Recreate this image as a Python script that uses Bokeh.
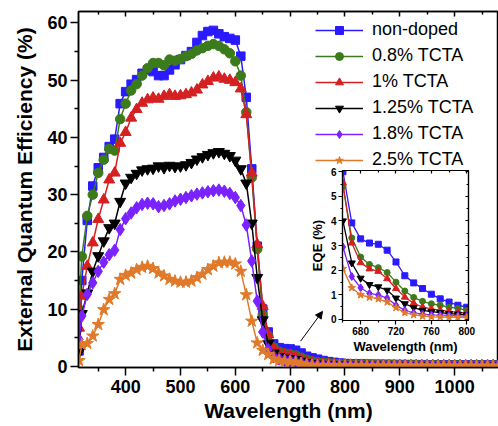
from bokeh.plotting import figure
from bokeh.models import (Range1d, LinearAxis, FixedTicker, Legend, LegendItem, Arrow, NormalHead,
                          CustomLabelingPolicy)
from bokeh.embed import file_html
from bokeh.resources import INLINE

# ---------------- data ----------------
wavelength = [315] + list(range(320, 1081, 10))

non_doped = [2.7, 15.0, 25.5, 31.5, 34.7, 36.5, 38.4, 39.7, 45.9, 48.0, 49.3, 50.1, 51.2, 51.8, 51.5, 50.8,
             50.8, 51.8, 52.7, 53.6, 54.3, 55.0, 56.6, 57.8, 58.5, 58.7, 58.1, 57.6, 57.3, 57.0, 54.2, 47.0,
             34.5, 21.0, 10.0, 6.0,
             3.92, 3.27, 3.10, 3.05, 2.81, 2.33, 1.77, 1.48, 1.25, 1.02, 0.83, 0.70, 0.57, 0.49,
             0.45, 0.42, 0.40, 0.38, 0.36, 0.35, 0.34, 0.33, 0.32, 0.31, 0.30, 0.30, 0.29, 0.29, 0.28, 0.28,
             0.27, 0.27, 0.27, 0.26, 0.26, 0.26, 0.25, 0.25, 0.25, 0.25, 0.24, 0.24]
tcta_08 = [10.0, 19.2, 26.3, 30.0, 33.8, 36.1, 38.0, 37.7, 43.2, 45.9, 48.2, 49.3, 50.8, 52.1, 53.0, 53.0,
           52.6, 53.6, 53.4, 53.7, 54.2, 54.6, 55.2, 55.6, 56.0, 56.3, 56.0, 55.4, 54.7, 53.3, 50.8, 44.4,
           33.0, 20.5, 9.0, 5.4,
           3.31, 2.53, 2.23, 2.10, 1.90, 1.51, 1.15, 0.89, 0.73, 0.63, 0.57, 0.49, 0.44, 0.36,
           0.34, 0.32, 0.30, 0.29, 0.28, 0.27, 0.26, 0.25, 0.25, 0.24, 0.24, 0.23, 0.23, 0.22, 0.22, 0.22,
           0.21, 0.21, 0.21, 0.20, 0.20, 0.20, 0.20, 0.19, 0.19, 0.19, 0.19, 0.19]
tcta_1 = [6.7, 12.3, 17.5, 21.6, 25.7, 29.1, 32.6, 33.8, 39.0, 40.9, 43.4, 44.9, 46.0, 46.6, 46.9, 46.7,
          47.2, 47.5, 47.2, 47.3, 47.5, 47.8, 48.3, 49.2, 49.8, 50.4, 50.6, 50.2, 50.0, 49.6, 48.5, 44.0,
          33.8, 21.3, 10.5, 5.55,
          3.10, 2.30, 2.05, 1.95, 1.65, 1.25, 0.90, 0.65, 0.50, 0.42, 0.37, 0.32, 0.28, 0.25,
          0.22, 0.21, 0.20, 0.19, 0.19, 0.18, 0.18, 0.17, 0.17, 0.16, 0.16, 0.16, 0.15, 0.15, 0.15, 0.15,
          0.14, 0.14, 0.14, 0.14, 0.14, 0.13, 0.13, 0.13, 0.13, 0.13, 0.13, 0.12]
tcta_125 = [2.5, 9.2, 12.8, 16.6, 19.3, 21.9, 24.2, 25.0, 28.8, 32.0, 33.0, 33.7, 34.3, 34.5, 34.6, 35.0,
            34.7, 35.1, 34.9, 35.0, 35.2, 35.6, 36.2, 36.6, 37.0, 37.3, 37.5, 37.2, 36.8, 36.0, 34.5, 32.0,
            25.0, 15.5, 8.1, 4.0,
            2.29, 1.67, 1.41, 1.32, 1.18, 0.86, 0.63, 0.47, 0.36, 0.31, 0.27, 0.23, 0.21, 0.18,
            0.17, 0.16, 0.15, 0.15, 0.14, 0.14, 0.13, 0.13, 0.13, 0.12, 0.12, 0.12, 0.12, 0.11, 0.11, 0.11,
            0.11, 0.11, 0.10, 0.10, 0.10, 0.10, 0.10, 0.10, 0.10, 0.09, 0.09, 0.09]
tcta_18 = [4.7, 8.8, 12.6, 14.6, 16.6, 18.2, 19.5, 20.3, 23.9, 25.8, 26.8, 27.7, 28.3, 28.5, 28.4, 27.9,
           28.1, 28.4, 28.9, 29.2, 29.5, 29.8, 30.1, 30.3, 30.5, 30.7, 30.8, 30.6, 30.2, 29.5, 28.1, 24.7,
           18.4, 11.4, 6.0, 2.94,
           1.74, 1.28, 1.05, 0.99, 0.86, 0.57, 0.36, 0.26, 0.21, 0.18, 0.17, 0.16, 0.14, 0.13,
           0.12, 0.12, 0.11, 0.11, 0.10, 0.10, 0.10, 0.09, 0.09, 0.09, 0.09, 0.08, 0.08, 0.08, 0.08, 0.08,
           0.08, 0.07, 0.07, 0.07, 0.07, 0.07, 0.07, 0.07, 0.07, 0.06, 0.06, 0.06]
tcta_25 = [1.0, 3.8, 4.0, 5.3, 7.3, 9.9, 11.7, 12.7, 15.2, 15.9, 16.3, 16.9, 17.3, 17.5, 17.1, 16.3,
           15.8, 15.2, 14.9, 14.7, 14.7, 14.9, 15.5, 16.1, 16.9, 17.5, 18.1, 18.2, 18.2, 17.9, 16.6, 12.5,
           7.9, 4.1, 2.8, 2.06,
           1.28, 0.99, 0.89, 0.83, 0.70, 0.47, 0.27, 0.18, 0.13, 0.10, 0.09, 0.08, 0.08, 0.07,
           0.07, 0.06, 0.06, 0.06, 0.06, 0.05, 0.05, 0.05, 0.05, 0.05, 0.05, 0.05, 0.04, 0.04, 0.04, 0.04,
           0.04, 0.04, 0.04, 0.04, 0.04, 0.04, 0.04, 0.03, 0.03, 0.03, 0.03, 0.03]

labels = ["non-doped", "0.8% TCTA", "1% TCTA", "1.25% TCTA", "1.8% TCTA", "2.5% TCTA"]
series = [non_doped, tcta_08, tcta_1, tcta_125, tcta_18, tcta_25]
colors = ["#2a1aff", "#3b7b1b", "#d42020", "#000000", "#7a22ff", "#e07a2a"]
markers = ["square", "circle", "triangle", "inverted_triangle", "diamond", "star"]
main_sizes = [8.5, 9.5, 11, 11, 12.5, 13]
inset_sizes = [6, 6, 7, 7, 8, 8]

x_ticks = [400, 500, 600, 700, 800, 900, 1000]
x_minor = [350, 450, 550, 650, 750, 850, 950, 1050]
y_ticks = [0, 10, 20, 30, 40, 50, 60]
y_minor = [5, 15, 25, 35, 45, 55]
ix_ticks = [680, 720, 760, 800]
ix_minor = [660, 700, 740, 780]
iy_ticks = [0, 1, 2, 3, 4, 5, 6]
iy_minor = [0.5, 1.5, 2.5, 3.5, 4.5, 5.5]
inset_lo, inset_hi = 660, 800

FONT = "Liberation Sans"

HIDE_JS = """
try { const n = indices.size; for (let i = 0; i < n; i++) { indices.unset(i) } } catch (e) {}
return indices
"""


def mirror_axis(ticks, minor, tick_in, minor_in, lw):
    return LinearAxis(ticker=FixedTicker(ticks=ticks, minor_ticks=minor),
                      major_label_text_font_size="0px", major_label_standoff=0,
                      major_label_policy=CustomLabelingPolicy(code=HIDE_JS),
                      major_tick_in=tick_in, major_tick_out=0,
                      minor_tick_in=minor_in, minor_tick_out=0, axis_line_width=lw,
                      major_tick_line_width=lw, minor_tick_line_width=lw)


# ---------------- main figure ----------------
p = figure(width=498, height=426, x_range=Range1d(314, 1080), y_range=Range1d(-0.2, 62),
           output_backend="svg", toolbar_location=None,
           min_border_left=78, min_border_right=0, min_border_top=11, min_border_bottom=59)
p.xgrid.visible = False
p.ygrid.visible = False
p.outline_line_color = "black"
p.outline_line_width = 1.5

for ax in (p.xaxis[0], p.yaxis[0]):
    ax.axis_line_width = 1.5
    ax.major_tick_line_width = 1.5
    ax.minor_tick_line_width = 1.5
    ax.major_tick_out = 8
    ax.major_tick_in = 0
    ax.minor_tick_out = 4
    ax.minor_tick_in = 0
    ax.major_label_text_font = FONT
    ax.major_label_text_font_style = "bold"
    ax.major_label_text_font_size = "18px"
    ax.major_label_text_color = "black"
    ax.axis_label_text_font = FONT
    ax.axis_label_text_font_style = "bold"
    ax.axis_label_text_font_size = "21px"
    ax.axis_label_text_color = "black"

p.xaxis.ticker = FixedTicker(ticks=x_ticks, minor_ticks=x_minor)
p.yaxis.ticker = FixedTicker(ticks=y_ticks, minor_ticks=y_minor)
p.xaxis.axis_label = "Wavelength (nm)"
p.yaxis.axis_label = "External Quantum Efficiency (%)"
p.xaxis.major_label_standoff = 4
p.xaxis.axis_label_standoff = 3
p.yaxis.major_label_standoff = 3
p.yaxis.axis_label_standoff = 8

p.add_layout(mirror_axis(x_ticks, x_minor, 5, 3, 1.5), "above")

items = []
for lab, ys, c, m, s in zip(labels, series, colors, markers, main_sizes):
    lr = p.line(wavelength, ys, line_color=c, line_width=1.5)
    sr = p.scatter(wavelength, ys, marker=m, size=s, fill_color=c, line_color=c)
    items.append(LegendItem(label=lab, renderers=[lr, sr]))

legend = Legend(items=items, location=(237, 197), padding=0, margin=0, spacing=5,
                glyph_width=48, glyph_height=20, label_height=20, label_standoff=9,
                label_text_font=FONT, label_text_font_size="18px", label_text_color="black",
                border_line_color=None, background_fill_alpha=0)
p.add_layout(legend)

p.add_layout(Arrow(end=NormalHead(size=7, fill_color="black", line_color="black", line_width=1),
                   x_start=719, y_start=4.4, x_end=759, y_end=9.6,
                   line_color="black", line_width=1))

# ---------------- inset (absolutely placed over the main plot) ----------------
q = figure(width=170, height=190, x_range=Range1d(659.5, 802), y_range=Range1d(-0.05, 6.05),
           output_backend="svg", toolbar_location=None,
           min_border_left=32, min_border_right=8, min_border_top=4, min_border_bottom=32,
           styles={"position": "absolute", "left": "306px", "top": "166px", "z-index": "5"})
q.xgrid.visible = False
q.ygrid.visible = False
q.border_fill_alpha = 0
q.background_fill_color = "white"
q.outline_line_color = "black"
q.outline_line_width = 1.2

for ax in (q.xaxis[0], q.yaxis[0]):
    ax.axis_line_width = 1.2
    ax.major_tick_line_width = 1.2
    ax.minor_tick_line_width = 1.2
    ax.major_tick_out = 4
    ax.major_tick_in = 0
    ax.minor_tick_out = 2
    ax.minor_tick_in = 0
    ax.major_label_text_font = FONT
    ax.major_label_text_font_style = "bold"
    ax.major_label_text_font_size = "10px"
    ax.major_label_text_color = "black"
    ax.axis_label_text_font = FONT
    ax.axis_label_text_font_style = "bold"
    ax.axis_label_text_font_size = "13px"
    ax.axis_label_text_color = "black"
q.xaxis.ticker = FixedTicker(ticks=ix_ticks, minor_ticks=ix_minor)
q.yaxis.ticker = FixedTicker(ticks=iy_ticks, minor_ticks=iy_minor)
q.xaxis.axis_label = "Wavelength (nm)"
q.yaxis.axis_label = "EQE (%)"
q.xaxis.major_label_standoff = 2
q.xaxis.axis_label_standoff = 1
q.yaxis.major_label_standoff = 2
q.yaxis.axis_label_standoff = 3

q.add_layout(mirror_axis(ix_ticks, ix_minor, 3, 2, 1.2), "above")
q.add_layout(mirror_axis(iy_ticks, iy_minor, 3, 2, 1.2), "right")

i0 = wavelength.index(inset_lo)
i1 = wavelength.index(inset_hi) + 1
for ys, c, m, s in zip(series, colors, markers, inset_sizes):
    q.line(wavelength[i0:i1], ys[i0:i1], line_color=c, line_width=1.3)
    q.scatter(wavelength[i0:i1], ys[i0:i1], marker=m, size=s, fill_color=c, line_color=c)

open("out.html", "w").write(file_html([p, q], INLINE))
